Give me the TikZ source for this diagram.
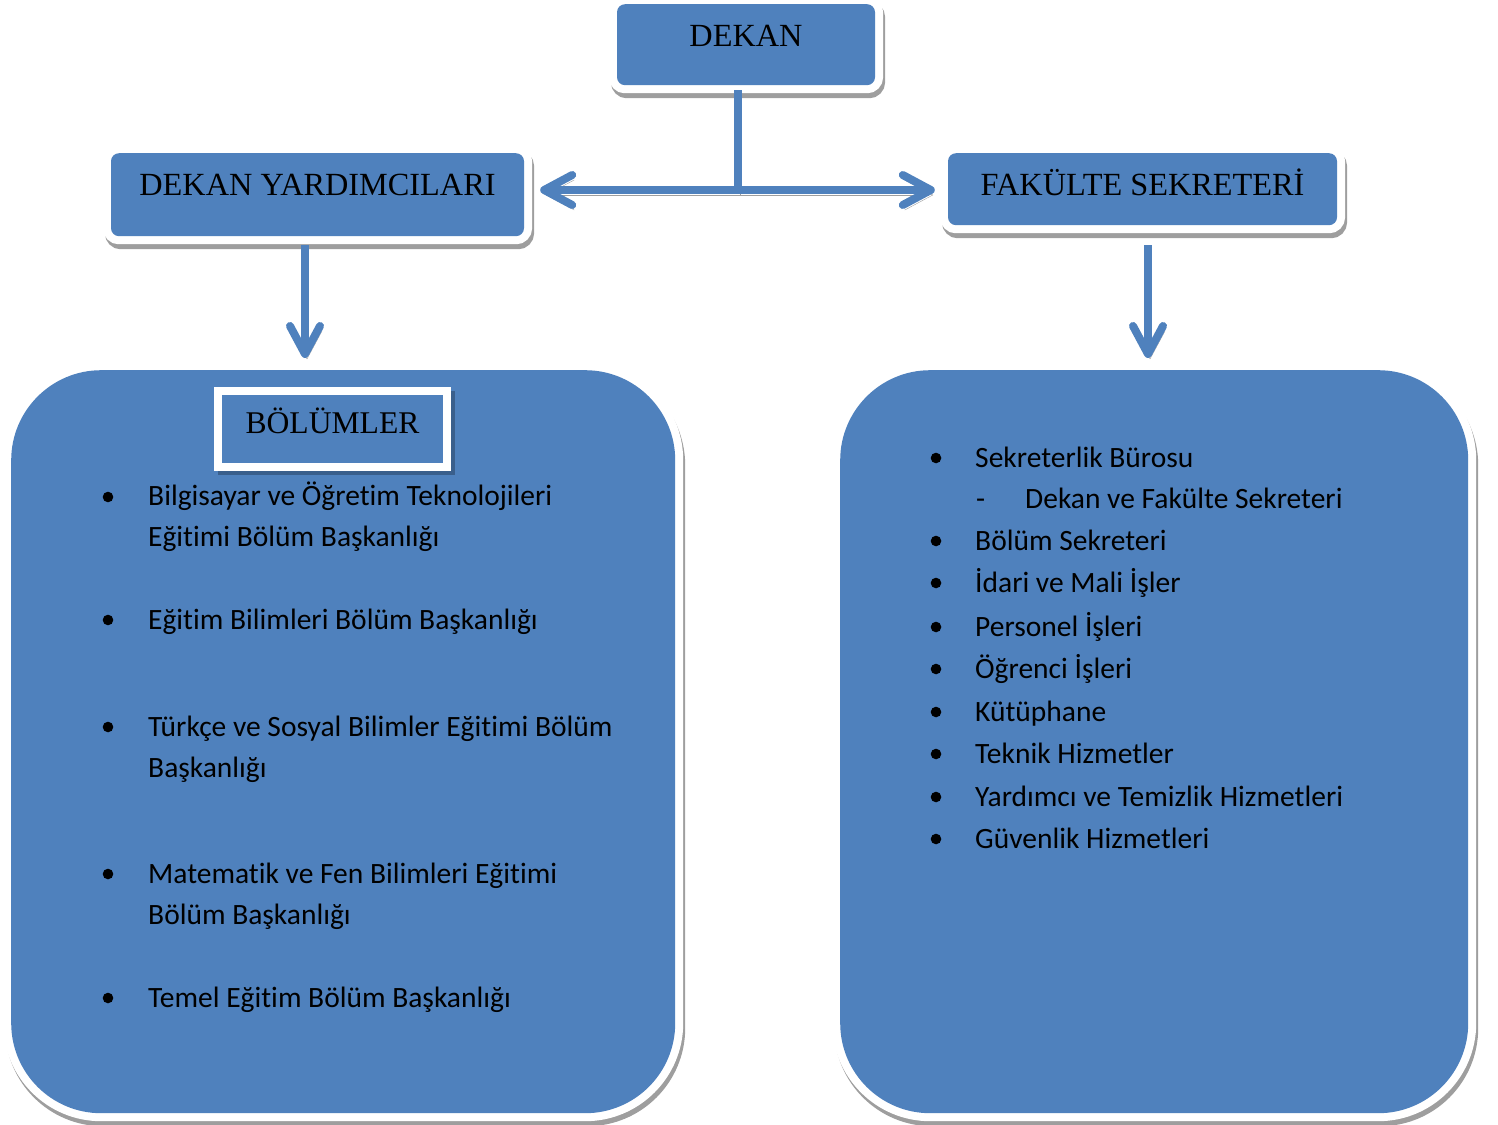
\documentclass[tikz,border=0pt]{standalone}
\usepackage{fontspec}
\setmainfont{Liberation Serif}
\newfontfamily\calfont[Ligatures=NoCommon]{Carlito}
\usetikzlibrary{arrows.meta}
\definecolor{boxblue}{RGB}{79,129,189}
\definecolor{shadegray}{RGB}{158,158,158}
\definecolor{shadeblue}{RGB}{58,95,140}
\tikzset{
  framed/.style={fill=boxblue, rounded corners=#1,
    preaction={draw=shadegray, line width=16pt, transform canvas={shift={(2pt,-5pt)}}},
    preaction={draw=white, line width=16pt}},
  titlebox/.style={framed=8pt, inner xsep=0pt, inner ysep=0pt, anchor=north,
    text height=42pt, font=\fontsize{32.3}{38}\selectfont},
  tagbox/.style={fill=boxblue, inner xsep=0pt, inner ysep=0pt, anchor=north,
    text height=38pt, text depth=30pt, font=\fontsize{31.6}{38}\selectfont,
    preaction={draw=shadeblue, fill=shadeblue, line width=16pt, transform canvas={shift={(4pt,-4pt)}}},
    preaction={draw=white, line width=16pt}},
  conn/.style={draw=boxblue, line width=8pt,
    preaction={draw=shadegray, transform canvas={shift={(2pt,-5pt)}}}},
  item/.style={anchor=base west, inner sep=0pt, align=left, font=\calfont\fontsize{29.5}{41}\selectfont}
}
\begin{document}
\begin{tikzpicture}[x=1pt,y=-1pt,>={Straight Barb[length=28pt,width=30pt,round]}]
\useasboundingbox (0,0) rectangle (1498,1124);

% Boxes
\node[titlebox, minimum width=258pt, text depth=39pt] (dekan) at (746,4) {DEKAN};
\node[titlebox, minimum width=413pt, text depth=41pt] (yard) at (317.5,153) {DEKAN YARDIMCILARI};
\node[titlebox, minimum width=389pt, text depth=30pt] (sek) at (1142.5,153) {FAKÜLTE SEKRETERİ};
\node[framed=90pt, minimum width=664pt, minimum height=743pt, anchor=north west] (bolumler) at (11,370) {};
\node[framed=90pt, minimum width=628pt, minimum height=743pt, anchor=north west] (birimler) at (840,370) {};
\node[tagbox, minimum width=221pt, text width=211pt, align=center] (baslik) at (332.5,395) {BÖLÜMLER};

% Connectors
\coordinate (hub) at (738,190);
\coordinate (ldrop) at (305,300);
\coordinate (rdrop) at (1148,300);
\draw[conn, shorten <=5pt] (hub |- dekan.south) -- (hub);
\draw[conn, <->, shorten <=16pt, shorten >=13pt] (hub -| yard.east) -- (hub -| sek.west);
\draw[conn, ->, shorten <=9pt, shorten >=12pt] (ldrop |- yard.south) -- (ldrop |- bolumler.north);
\draw[conn, ->, shorten <=20pt, shorten >=12pt] (rdrop |- sek.south) -- (rdrop |- birimler.north);

% Text Node
\fill (108,497) circle (5.3pt);
\node[item] (bol1) at (148,546) {Bilgisayar ve Öğretim Teknolojileri\\Eğitimi Bölüm Başkanlığı};
% Text Node
\fill (108,620) circle (5.3pt);
\node[item] (bol2) at (148,629) {Eğitim Bilimleri Bölüm Başkanlığı};
% Text Node
\fill (108,727) circle (5.3pt);
\node[item] (bol3) at (148,777) {Türkçe ve Sosyal Bilimler Eğitimi Bölüm\\Başkanlığı};
% Text Node
\fill (108,874) circle (5.3pt);
\node[item] (bol4) at (148,924) {Matematik ve Fen Bilimleri Eğitimi\\Bölüm Başkanlığı};
% Text Node
\fill (108,998) circle (5.3pt);
\node[item] (bol5) at (148,1007) {Temel Eğitim Bölüm Başkanlığı};

% Text Node
\fill (936,458) circle (5.3pt);
\node[item] (bir1) at (975,467) {Sekreterlik Bürosu};
% Text Node
\node[item] (bir1a) at (976,508) {-};
\node[item] (bir1b) at (1025,508) {Dekan ve Fakülte Sekreteri};
% Text Node
\fill (936,541) circle (5.3pt);
\node[item] (bir2) at (975,550) {Bölüm Sekreteri};
% Text Node
\fill (936,583) circle (5.3pt);
\node[item] (bir3) at (975,592) {İdari ve Mali İşler};
% Text Node
\fill (936,627) circle (5.3pt);
\node[item] (bir4) at (975,636) {Personel İşleri};
% Text Node
\fill (936,669) circle (5.3pt);
\node[item] (bir5) at (975,678) {Öğrenci İşleri};
% Text Node
\fill (936,712) circle (5.3pt);
\node[item] (bir6) at (975,721) {Kütüphane};
% Text Node
\fill (936,754) circle (5.3pt);
\node[item] (bir7) at (975,763) {Teknik Hizmetler};
% Text Node
\fill (936,797) circle (5.3pt);
\node[item] (bir8) at (975,806) {Yardımcı ve Temizlik Hizmetleri};
% Text Node
\fill (936,839) circle (5.3pt);
\node[item] (bir9) at (975,848) {Güvenlik Hizmetleri};
\end{tikzpicture}
\end{document}
